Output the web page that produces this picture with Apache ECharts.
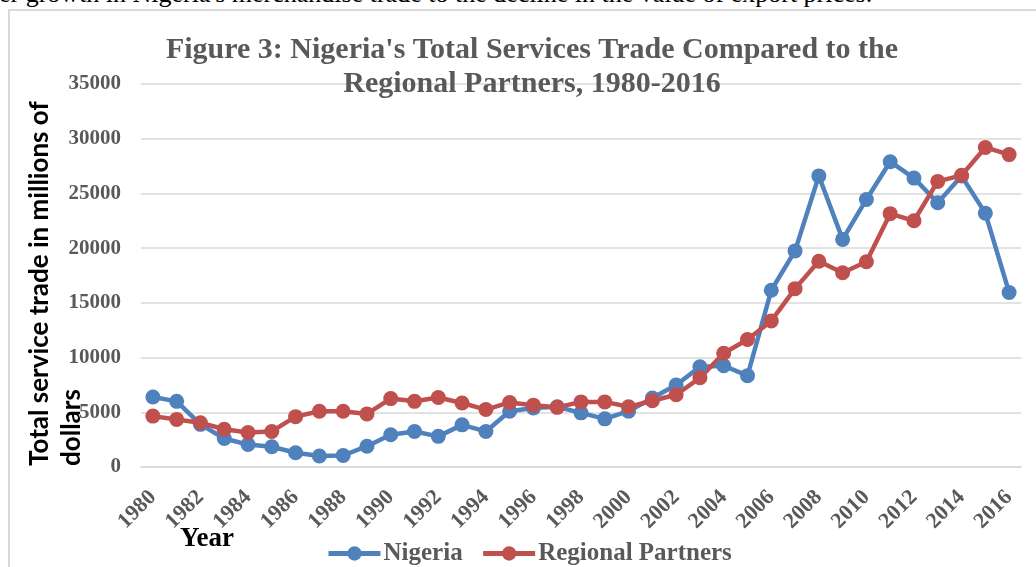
<!DOCTYPE html>
<html>
<head>
<meta charset="utf-8">
<script src="https://cdn.jsdelivr.net/npm/echarts@6/dist/echarts.min.js"></script>
<style>
  html, body { margin: 0; padding: 0; background: #fff; overflow: hidden; }
  .topline {
    position: absolute; left: -1px; top: -19px; white-space: nowrap;
    font: 26px/26px "Liberation Serif", serif; color: #000;
  }
  .frame {
    position: absolute; left: 8px; top: 9px; width: 1200px; height: 800px;
    border-left: 2px solid #d9d9d9; border-top: 2px solid #d9d9d9;
  }
  #chart { position: absolute; left: 0; top: 0; width: 1036px; height: 567px; }
</style>
</head>
<body>
<div class="topline">er growth in Nigeria's merchandise trade to the decline in the value of export prices.</div>
<div class="frame"></div>
<div id="chart"></div>
<script>
// years 1980-2016
const years = []
for (let y = 1980; y <= 2016; y++) years.push(String(y))

// millions of dollars
const nigeria = [
  6400, 6000, 3900, 2600, 2050, 1850, 1300, 1000, 1050, 1900,
  2950, 3250, 2800, 3850, 3250, 5100, 5400, 5500, 4950, 4400,
  5100, 6300, 7500, 9150, 9250, 8350, 16150, 19750, 26600, 20800,
  24450, 27900, 26400, 24150, 26600, 23200, 15950
]
const partners = [
  4650, 4350, 4050, 3450, 3150, 3250, 4600, 5100, 5100, 4850,
  6250, 6000, 6350, 5850, 5250, 5900, 5650, 5450, 5950, 5950,
  5500, 6050, 6600, 8150, 10400, 11650, 13350, 16300, 18800, 17750,
  18750, 23150, 22500, 26100, 26650, 29200, 28550
]

const serif = '"Liberation Serif", "Times New Roman", serif'
const gray = '#595959'

const myChart = echarts.init(document.getElementById('chart'))
myChart.setOption({
  animation: false,
  title: {
    text: "Figure 3: Nigeria's Total Services Trade Compared to the\nRegional Partners, 1980-2016",
    left: 527,
    textAlign: 'center',
    top: 28,
    textStyle: {
      fontFamily: serif,
      fontWeight: 'bold',
      fontSize: 30,
      lineHeight: 34,
      color: gray
    }
  },
  legend: {
    left: 326,
    top: 541,
    padding: 0,
    itemWidth: 52,
    itemHeight: 18,
    itemGap: 18,
    lineStyle: { width: 5 },
    textStyle: { fontFamily: serif, fontWeight: 'bold', fontSize: 25, color: gray, padding: [0, 0, 0, -2] },
    data: ['Nigeria', 'Regional Partners']
  },
  grid: { left: 141, right: 15, top: 84, bottom: 100 },
  xAxis: {
    type: 'category',
    data: years,
    boundaryGap: true,
    axisLine: { lineStyle: { color: '#d9d9d9', width: 1.5 } },
    axisTick: { show: false },
    axisLabel: {
      interval: 1,
      rotate: 45,
      margin: 27,
      fontFamily: serif,
      fontWeight: 'bold',
      fontSize: 22,
      color: gray
    }
  },
  yAxis: {
    type: 'value',
    min: 0,
    max: 35000,
    interval: 5000,
    axisLine: { show: false },
    axisTick: { show: false },
    splitLine: { lineStyle: { color: '#d9d9d9', width: 1.5 } },
    axisLabel: {
      margin: 20,
      fontFamily: serif,
      fontWeight: 'bold',
      fontSize: 21,
      color: gray,
      formatter: v => String(v)
    }
  },
  graphic: [
    {
      type: 'text',
      x: 24,
      y: 466,
      rotation: Math.PI / 2,
      style: {
        text: 'Total service trade in millions of\ndollars',
        font: 'bold 26px Lato, sans-serif',
        fill: '#000',
        align: 'left',
        verticalAlign: 'top',
        lineHeight: 32
      }
    },
    {
      type: 'text',
      x: 180,
      y: 526,
      style: {
        text: 'Year',
        font: 'bold 27px ' + serif,
        fill: '#000'
      }
    }
  ],
  series: [
    {
      name: 'Nigeria',
      type: 'line',
      data: nigeria,
      color: '#4f81bd',
      symbol: 'circle',
      symbolSize: 15,
      lineStyle: { width: 4.5 }
    },
    {
      name: 'Regional Partners',
      type: 'line',
      data: partners,
      color: '#c0504d',
      symbol: 'circle',
      symbolSize: 15,
      lineStyle: { width: 4.5 }
    }
  ]
})
</script>
</body>
</html>
